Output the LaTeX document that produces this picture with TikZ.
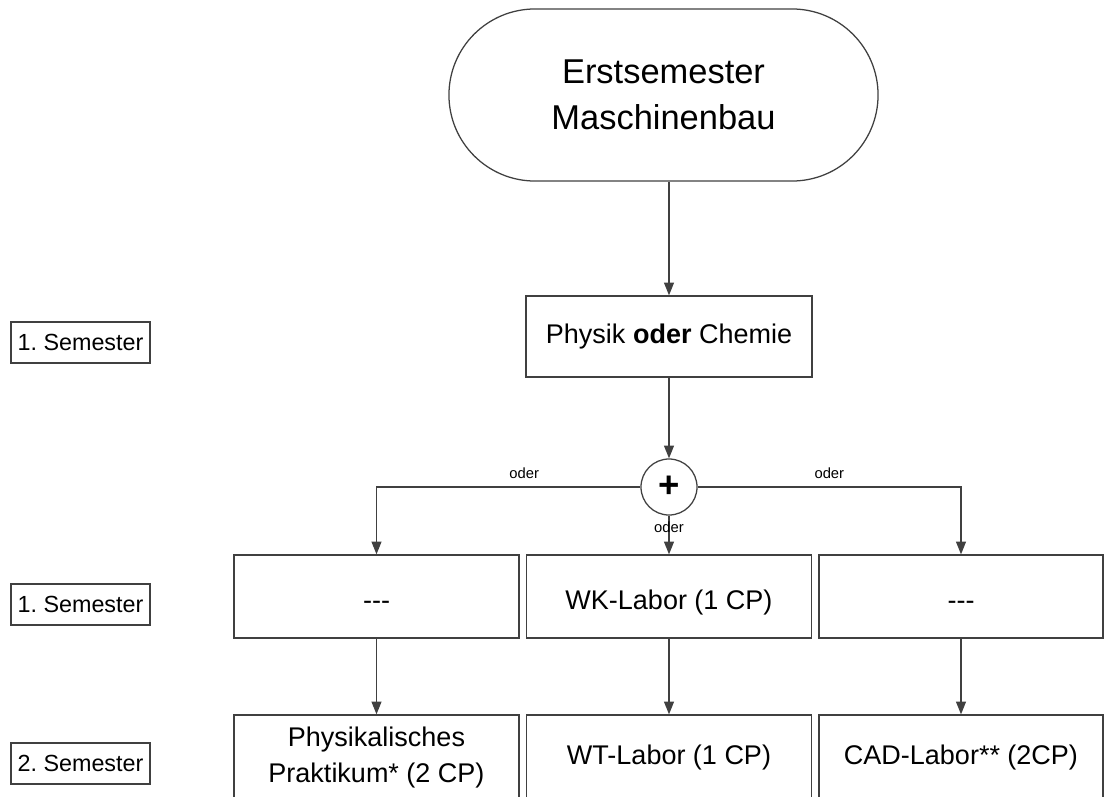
\documentclass[tikz,border=0pt]{standalone}
\usepackage{fontspec}
\setmainfont{Liberation Sans}
\usetikzlibrary{arrows.meta}
\begin{document}
\frenchspacing
\begin{tikzpicture}[x=0.025cm,y=-0.025cm,
  line/.style={draw=black!75, line width=0.9pt},
  arr/.style={line, -{Triangle[length=9pt,width=7pt]}},
  box/.style={line, rectangle, fill=white, align=center, inner sep=0pt},
  rowone/.style={line, rectangle, fill=white, inner sep=0pt, minimum height=2.075cm, text height=18pt, text depth=0pt, font=\fontsize{19.2}{23}\selectfont},
  sembox/.style={line, rectangle, minimum width=3.475cm, minimum height=1.025cm, inner sep=0pt, font=\fontsize{16.6}{20}\selectfont},
  lbl/.style={font=\fontsize{10.5}{12}\selectfont, inner sep=1pt}
]
\useasboundingbox (0,0) rectangle (1104,796);
\clip (0,0) rectangle (1104,796);
% terminal
\node[line, rectangle, rounded corners=2.15cm, minimum width=10.725cm, minimum height=4.3cm, align=center,
  font=\fontsize{24.5}{32.5}\selectfont] (term) at (663.5,95) {Erstsemester\\Maschinenbau};
\node[box, minimum width=7.15cm, minimum height=2.025cm, font=\fontsize{19.2}{23}\selectfont] (phys) at (669,336.5) {Physik \textbf{oder} Chemie};
\node[line, circle, minimum size=1.4cm, inner sep=0pt, font=\fontsize{26}{26}\selectfont\bfseries] (plus) at (669,487) {+};
% row 1
\node[rowone, minimum width=7.125cm] (b11) at (376.5,596.5) {-{}-{}-};
\node[rowone, minimum width=7.125cm] (b12) at (669,596.5) {WK-Labor (1 CP)};
\node[rowone, minimum width=7.1cm] (b13) at (961,596.5) {-{}-{}-};
% row 2
\node[box, minimum width=7.125cm, minimum height=2.125cm, font=\fontsize{19.2}{26}\selectfont] (b21) at (376.5,757.5) {Physikalisches\\Praktikum* (2 CP)};
\node[box, minimum width=7.125cm, minimum height=2.125cm, font=\fontsize{19.2}{23}\selectfont] (b22) at (669,757.5) {WT-Labor (1 CP)};
\node[box, minimum width=7.1cm, minimum height=2.125cm, font=\fontsize{19.2}{23}\selectfont] (b23) at (961,757.5) {CAD-Labor** (2CP)};
% semester labels
\node[sembox] (s1) at (80.5,342.5) {1. Semester};
\node[sembox] (s2) at (80.5,604.5) {1. Semester};
\node[sembox] (s3) at (80.5,763.5) {2. Semester};
% connectors
\draw[arr] (phys.north |- term.south) -- (phys.north);
\draw[arr] (phys.south) -- (plus.north);
\draw[arr] (plus.west) -| (b11.north) node[lbl, pos=0.22, above=4.5pt] {oder};
\draw[arr] (plus.east) -| (b13.north) node[lbl, pos=0.25, above=4.5pt] {oder};
\draw[arr] (plus.south) -- (b12.north) node[lbl, pos=0.3] {oder};
\draw[arr] (b11.south) -- (b21.north);
\draw[arr] (b12.south) -- (b22.north);
\draw[arr] (b13.south) -- (b23.north);
\end{tikzpicture}
\end{document}
